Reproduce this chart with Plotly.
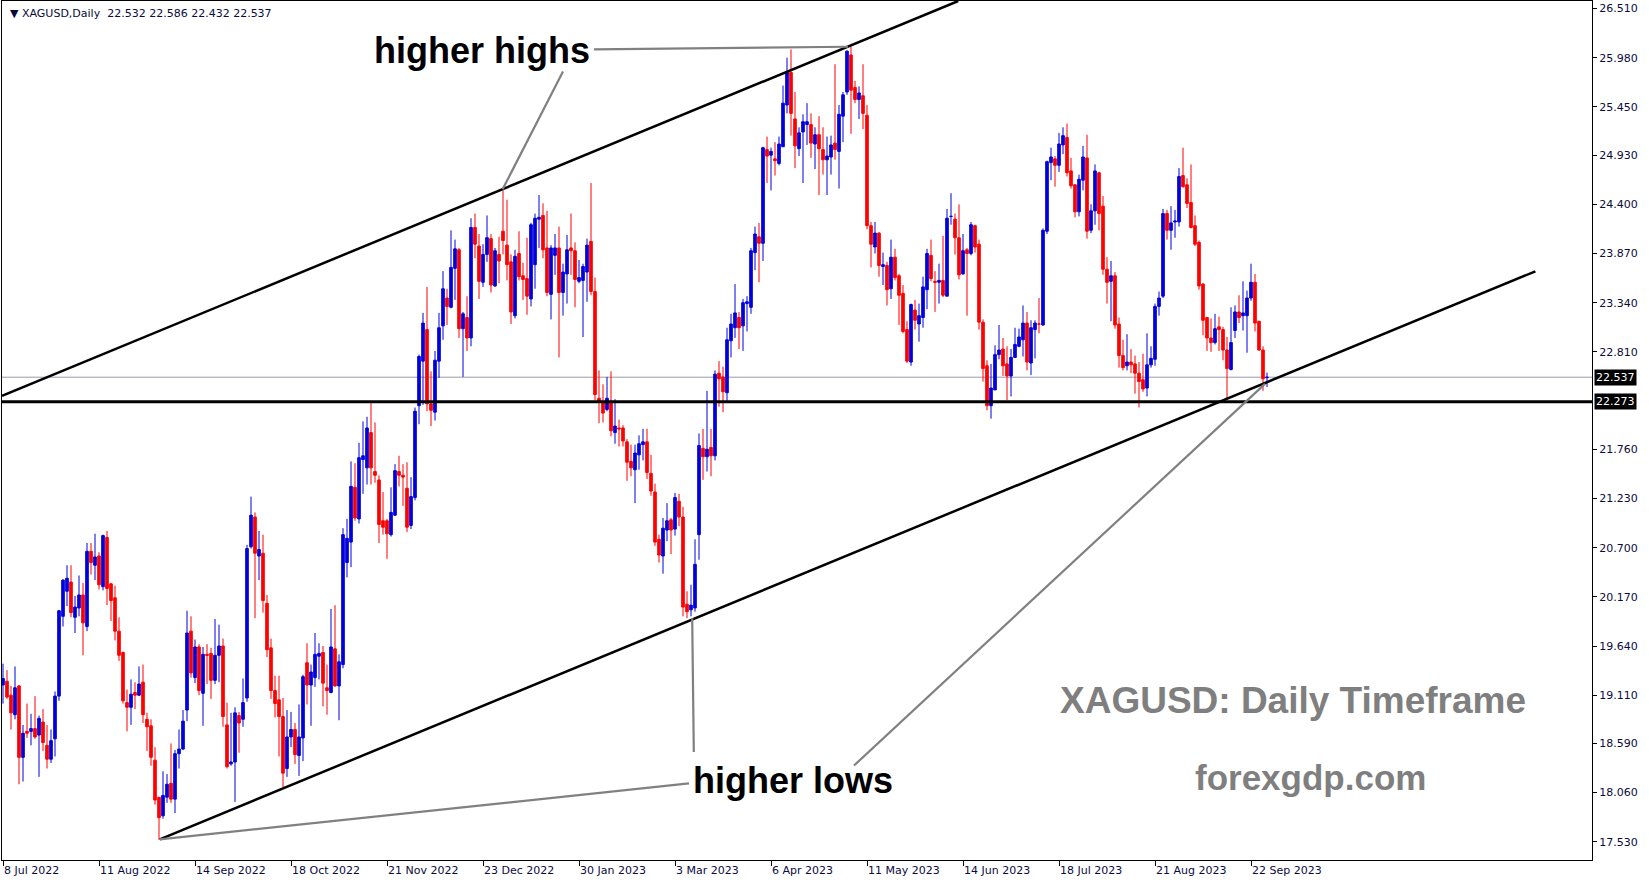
import plotly.graph_objects as go

# ---------------- data (XAGUSD daily, bar index 0 = 8 Jul 2022) ----------------
opens = [19.22,19.26,19.11,18.90,19.21,18.44,18.72,18.72,18.75,18.68,18.82,18.57,18.42,18.64,19.10,19.96,20.23,20.33,19.95,20.05,
20.19,19.85,20.66,20.51,20.61,20.28,20.81,20.31,20.16,19.80,19.57,19.03,18.98,19.14,19.11,19.25,18.85,18.78,18.41,18.01,
17.81,18.01,18.16,17.99,18.48,18.53,18.95,19.80,19.30,19.63,19.13,19.55,19.56,19.27,19.54,19.64,18.79,18.37,18.39,18.89,
18.85,19.08,20.71,21.03,20.61,20.64,20.10,19.62,19.16,19.06,18.88,18.32,18.66,18.74,18.46,18.65,19.46,19.22,19.30,19.53,
19.57,19.19,19.14,19.61,19.21,19.44,20.54,20.76,21.35,21.01,21.65,21.56,21.94,21.52,21.43,20.99,20.99,20.84,21.05,21.52,
21.48,21.34,20.94,21.24,22.23,22.71,23.05,22.25,22.16,22.71,23.09,23.39,23.29,23.71,23.91,23.06,23.18,22.96,24.15,23.95,
23.56,23.86,24.03,23.52,23.86,24.11,23.96,23.78,23.20,23.87,23.63,23.60,23.38,23.75,24.24,24.28,23.93,23.43,23.85,23.93,
23.45,23.65,23.93,23.90,23.57,23.58,23.67,24.00,23.46,22.31,22.27,22.19,22.26,21.94,21.99,21.99,21.84,21.63,21.54,21.70,
21.81,21.84,21.50,21.30,20.79,20.61,20.89,21.00,20.90,21.20,21.03,20.09,20.03,20.05,20.84,21.77,21.68,21.78,21.69,22.58,
22.54,22.37,22.93,23.07,23.18,23.09,23.33,23.29,23.88,24.05,23.98,24.99,24.93,24.89,24.84,25.02,25.47,25.82,25.32,25.00,
25.18,25.26,25.26,25.05,25.15,24.99,24.88,24.91,25.06,24.97,25.35,25.61,26.01,25.66,25.53,25.57,25.36,24.17,23.94,24.09,
23.73,23.74,23.49,23.83,23.63,23.44,23.05,22.70,23.26,23.11,23.18,23.48,23.85,23.57,23.56,23.58,23.41,24.27,24.24,24.04,
23.65,23.91,23.87,24.17,23.97,23.13,22.66,22.23,22.40,22.78,22.84,22.68,22.55,22.75,22.87,22.94,23.12,22.69,23.05,23.11,
23.10,24.11,24.85,24.89,24.82,25.04,25.12,24.76,24.61,24.32,24.66,24.90,24.12,24.33,24.74,24.38,23.70,23.57,23.63,23.11,
22.77,22.66,22.70,22.68,22.58,22.51,22.42,22.67,22.73,23.30,23.41,24.30,24.12,24.21,24.21,24.71,24.61,24.42,24.17,23.99,
23.54,23.18,22.96,22.91,23.08,23.05,22.83,22.62,23.04,23.24,23.20,23.20,23.39,23.56,23.14,22.83,22.532]

highs = [19.45,19.38,19.21,19.42,19.22,18.79,19.02,18.91,19.10,18.89,18.96,18.79,18.74,19.15,20.03,20.36,20.51,20.51,20.18,20.40,
20.32,20.75,20.75,20.85,20.65,20.84,20.88,20.32,20.29,19.95,19.58,19.17,19.28,19.25,19.42,19.44,18.92,18.85,18.55,18.01,
18.29,18.26,18.59,18.52,18.74,18.95,20.02,19.96,19.71,19.66,19.63,19.66,19.62,19.93,19.87,19.72,19.03,18.92,18.98,18.93,
19.29,20.73,21.25,21.08,20.88,20.84,20.19,19.72,19.32,19.32,19.08,18.95,18.93,18.81,19.01,19.33,19.67,19.44,19.78,19.67,
19.64,19.44,20.04,20.08,19.55,20.91,21.01,21.63,21.61,21.83,22.06,22.11,22.26,22.05,21.48,21.30,21.01,21.35,21.60,21.69,
21.60,21.62,21.46,22.21,22.78,23.23,23.51,22.60,22.82,23.23,23.68,23.49,24.12,24.02,23.93,23.24,23.41,24.25,24.30,24.08,
23.97,24.28,24.08,23.93,24.05,24.55,24.45,23.86,23.91,24.11,23.77,24.04,24.20,24.30,24.50,24.41,24.33,23.96,24.08,24.16,
23.76,24.07,24.30,23.99,23.80,23.76,24.03,24.63,23.61,22.61,22.46,22.54,22.60,22.30,22.08,22.02,21.87,21.81,21.81,21.91,
21.98,21.98,21.70,21.39,20.84,21.02,21.18,21.02,21.29,21.28,21.14,20.23,20.30,20.79,21.93,21.98,22.39,21.98,22.61,22.71,
22.65,23.07,23.22,23.54,23.24,23.38,23.41,23.93,24.16,24.20,25.02,25.13,25.01,25.07,25.13,25.68,25.98,26.07,25.61,25.23,
25.37,25.49,25.38,25.23,25.35,25.23,25.13,25.14,25.91,25.47,25.61,26.06,26.10,25.73,25.67,25.91,25.47,24.21,24.21,24.10,
23.88,23.78,24.02,23.92,23.65,23.53,23.14,23.33,23.37,23.33,23.62,23.92,24.02,23.68,23.76,24.06,24.35,24.52,24.30,24.40,
24.08,23.93,24.21,24.18,24.02,23.16,22.72,22.68,22.88,23.10,22.96,22.87,22.84,23.07,23.06,23.31,23.24,23.15,23.15,23.39,
24.14,24.87,25.01,24.92,25.17,25.23,25.27,24.90,24.62,24.72,25.03,25.15,24.40,24.83,24.75,24.49,23.83,23.79,23.67,23.18,
22.94,23.00,22.84,22.77,22.70,22.79,23.01,22.87,23.33,23.46,24.35,24.34,24.38,24.34,24.79,25.01,24.68,24.83,24.28,24.01,
23.55,23.18,23.17,23.22,23.19,23.08,22.97,23.29,23.31,23.42,23.57,23.47,23.76,23.65,23.14,22.87,22.586]

lows = [19.02,19.07,18.74,18.85,18.15,18.18,18.65,18.57,18.64,18.23,18.51,18.32,18.38,18.45,19.05,19.85,20.07,19.95,19.78,19.96,
19.54,19.80,20.41,20.35,20.25,20.24,20.08,19.91,19.70,19.48,19.02,18.72,18.79,18.96,19.10,18.81,18.51,18.35,17.93,17.55,
17.78,17.95,17.95,17.84,18.32,18.52,18.83,19.30,19.24,19.11,18.78,19.23,19.07,19.23,19.25,18.77,18.32,18.35,17.96,18.49,
18.77,19.04,20.69,19.94,20.35,20.00,19.52,19.07,18.87,18.45,18.12,18.23,18.55,18.37,18.24,18.40,19.01,18.78,19.20,19.28,
18.99,18.90,19.13,19.20,18.84,19.40,20.38,20.49,20.99,20.96,21.28,21.38,21.38,21.40,20.75,20.84,20.58,20.82,21.04,21.36,
21.15,20.87,20.90,21.21,22.03,22.24,22.17,22.01,22.07,22.53,22.94,23.10,23.28,23.37,22.96,22.54,22.82,22.87,23.82,23.38,
23.51,23.78,23.45,23.51,23.55,23.86,23.58,23.11,23.17,23.58,23.37,23.21,23.30,23.49,23.93,23.82,23.41,23.16,23.64,22.75,
23.20,23.33,23.64,23.29,23.55,22.97,23.35,23.42,22.29,22.04,22.05,22.17,21.90,21.82,21.79,21.79,21.42,21.47,21.18,21.54,
21.64,21.44,21.26,20.72,20.54,20.42,20.77,20.63,20.83,20.93,19.96,19.94,19.96,20.01,20.57,21.43,21.52,21.47,21.64,22.22,
22.16,22.28,22.75,22.96,22.84,22.82,23.03,23.22,23.69,23.56,23.79,24.63,24.55,24.71,24.82,25.02,25.38,25.14,24.79,24.92,
24.63,25.04,24.90,24.78,24.50,24.72,24.50,24.72,24.88,24.57,25.07,25.58,25.16,25.49,25.32,25.21,24.13,23.72,23.87,23.62,
23.53,23.31,23.38,23.58,23.10,23.01,22.69,22.66,23.05,22.92,23.07,23.27,23.57,23.24,23.33,23.40,23.41,24.18,23.86,23.59,
23.64,23.20,23.85,23.88,23.05,22.49,22.18,22.09,22.40,22.73,22.55,22.29,22.33,22.75,22.86,22.76,22.61,22.56,22.74,23.01,
23.09,24.08,24.66,24.59,24.75,24.94,24.70,24.57,24.26,24.27,24.55,24.03,24.09,24.18,24.12,23.64,23.33,23.14,23.06,22.64,
22.61,22.61,22.58,22.36,22.21,22.38,22.33,22.64,22.66,23.20,23.39,24.02,23.91,24.04,24.16,24.58,24.36,24.14,23.95,23.48,
22.99,22.82,22.81,22.89,22.82,22.72,22.31,22.61,22.96,23.12,23.04,22.80,23.36,23.03,22.82,22.39,22.432]

closes = [19.29,19.09,18.92,19.19,18.44,18.70,18.70,18.75,18.66,18.86,18.60,18.42,18.62,19.10,20.02,20.35,20.37,20.00,20.06,20.19,
19.89,20.66,20.54,20.60,20.30,20.83,20.26,20.13,19.80,19.54,19.05,18.98,19.12,19.11,19.23,18.90,18.77,18.44,17.98,17.79,
18.03,18.15,17.99,18.48,18.53,18.83,19.78,19.35,19.63,19.16,19.55,19.54,19.27,19.54,19.64,18.88,18.34,18.39,18.92,18.81,
19.03,20.69,21.05,20.64,20.68,20.13,19.60,19.16,19.02,18.88,18.27,18.66,18.74,18.47,18.66,19.31,19.22,19.36,19.55,19.56,
19.24,19.16,19.63,19.21,19.47,20.84,20.80,21.36,21.02,21.67,21.69,21.99,21.56,21.48,20.95,20.92,20.85,21.08,21.53,21.48,
21.46,20.92,21.25,22.17,22.76,23.12,22.25,22.18,22.72,23.07,23.49,23.30,23.72,23.92,23.06,23.22,22.96,24.15,23.97,23.57,
23.86,24.04,23.53,23.90,23.79,24.01,23.75,23.24,23.84,23.62,23.59,23.41,24.18,24.25,24.26,23.91,23.45,23.93,23.93,23.45,
23.67,23.91,23.90,23.59,23.61,23.73,23.96,23.46,22.35,22.27,22.15,22.31,21.96,22.01,21.98,21.85,21.62,21.56,21.72,21.82,
21.84,21.51,21.31,20.76,20.62,20.91,20.99,20.89,21.24,21.03,20.06,20.01,20.08,20.52,21.80,21.68,21.76,21.69,22.57,22.52,
22.38,22.94,23.11,23.23,23.07,23.34,23.35,23.90,24.08,23.98,25.01,24.92,24.97,24.87,25.05,25.49,25.82,25.38,25.03,25.17,
25.29,25.29,25.06,25.15,25.00,24.88,24.92,25.04,24.99,25.37,25.58,26.05,25.63,25.53,25.60,25.38,24.17,23.97,24.09,23.74,
23.75,23.48,23.83,23.61,23.42,23.03,22.71,23.32,23.15,23.20,23.51,23.87,23.60,23.56,23.58,23.42,24.25,24.27,24.04,23.64,
23.90,23.87,24.18,23.94,23.13,22.63,22.23,22.42,22.78,22.83,22.66,22.55,22.75,22.89,22.97,23.12,22.70,23.07,23.12,23.11,
24.12,24.86,24.91,24.82,25.05,25.14,24.74,24.60,24.32,24.67,24.91,24.11,24.33,24.76,24.30,23.70,23.56,23.63,23.10,22.77,
22.64,22.70,22.67,22.58,22.49,22.41,22.67,22.74,23.30,23.39,24.30,24.12,24.20,24.22,24.70,24.59,24.41,24.15,23.97,23.52,
23.15,22.96,22.91,23.06,23.05,22.83,22.63,22.91,23.24,23.18,23.23,23.39,23.56,23.12,22.83,22.52,22.537]

bars = list(range(len(closes)))

date_ticks = [0, 24, 48, 72, 96, 120, 144, 168, 192, 216, 240, 264, 288, 312]
date_labels = ["8 Jul 2022", "11 Aug 2022", "14 Sep 2022", "18 Oct 2022", "21 Nov 2022",
               "23 Dec 2022", "30 Jan 2023", "3 Mar 2023", "6 Apr 2023", "11 May 2023",
               "14 Jun 2023", "18 Jul 2023", "21 Aug 2023", "22 Sep 2023"]
price_ticks = [26.51, 25.98, 25.45, 24.93, 24.40, 23.87, 23.34, 22.81, 21.76, 21.23,
               20.70, 20.17, 19.64, 19.11, 18.59, 18.06, 17.53]

bid_price = 22.537
support_price = 22.273

# drawn objects (bar index, price)
upper_channel_x = [-0.25, 238.8]
upper_channel_y = [22.3356, 26.591]
lower_channel_x = [39.2, 383.1]
lower_channel_y = [17.557, 23.678]
hh_pointer_x = [[147.75, 211.25], [140.0, 124.9]]
hh_pointer_y = [[26.069, 26.098], [25.831, 24.562]]
hl_pointer_x = [[39.2, 171.5], [172.3, 172.7], [212.75, 315.5]]
hl_pointer_y = [[17.557, 18.159], [19.938, 18.498], [18.352, 22.465]]

X_RANGE = [-0.25, 397.25]
Y_RANGE = [17.334, 26.591]

fig = go.Figure()
fig.add_trace(go.Candlestick(
    x=bars, open=opens, high=highs, low=lows, close=closes,
    increasing=dict(line=dict(color="#0000dd", width=1), fillcolor="#0000dd"),
    decreasing=dict(line=dict(color="#ff0000", width=1), fillcolor="#ff0000"),
    whiskerwidth=0, hoverinfo="skip", showlegend=False,
))

shapes = []
shapes.append(dict(type="line", xref="x", yref="y", x0=X_RANGE[0], x1=X_RANGE[1],
                   y0=bid_price, y1=bid_price, line=dict(color="#9a9aa8", width=1), layer="below"))
shapes.append(dict(type="line", xref="x", yref="y", x0=X_RANGE[0], x1=X_RANGE[1],
                   y0=support_price, y1=support_price, line=dict(color="black", width=3), layer="above"))
shapes.append(dict(type="line", xref="x", yref="y", x0=upper_channel_x[0], x1=upper_channel_x[1],
                   y0=upper_channel_y[0], y1=upper_channel_y[1], line=dict(color="black", width=2.5)))
shapes.append(dict(type="line", xref="x", yref="y", x0=lower_channel_x[0], x1=lower_channel_x[1],
                   y0=lower_channel_y[0], y1=lower_channel_y[1], line=dict(color="black", width=2.5)))
for xs, ys in zip(hh_pointer_x + hl_pointer_x, hh_pointer_y + hl_pointer_y):
    shapes.append(dict(type="line", xref="x", yref="y", x0=xs[0], x1=xs[1], y0=ys[0], y1=ys[1],
                       line=dict(color="#808080", width=2.2)))

big_font = "Liberation Sans, Arial, sans-serif"
annotations = [
    dict(x=119.7, y=26.057, xref="x", yref="y", text="<b>higher highs</b>", showarrow=False,
         font=dict(family=big_font, size=36, color="black")),
    dict(x=197.5, y=18.192, xref="x", yref="y", text="<b>higher lows</b>", showarrow=False,
         font=dict(family=big_font, size=36, color="black")),
    dict(x=322.6, y=19.054, xref="x", yref="y", text="<b>XAGUSD: Daily Timeframe</b>", showarrow=False,
         font=dict(family=big_font, size=37, color="#7f7f7f")),
    dict(x=326.9, y=18.227, xref="x", yref="y", text="<b>forexgdp.com</b>", showarrow=False,
         font=dict(family=big_font, size=35, color="#7f7f7f")),
    dict(x=0.004, y=0.986, xref="paper", yref="paper", xanchor="left", yanchor="middle",
         text="▼ XAGUSD,Daily  22.532 22.586 22.432 22.537", showarrow=False,
         font=dict(family="Tahoma, DejaVu Sans, sans-serif", size=11, color="#0a0a3c")),
    dict(x=1, y=bid_price, xref="paper", yref="y", xanchor="left", xshift=2, yanchor="middle",
         text="%.3f" % bid_price, showarrow=False, bgcolor="black", borderpad=1,
         font=dict(family="DejaVu Sans, sans-serif", size=11, color="white")),
    dict(x=1, y=support_price, xref="paper", yref="y", xanchor="left", xshift=2, yanchor="middle",
         text="%.3f" % support_price, showarrow=False, bgcolor="black", borderpad=1,
         font=dict(family="DejaVu Sans, sans-serif", size=11, color="white")),
]

fig.update_layout(
    width=1649, height=884,
    margin=dict(l=2, r=57, t=1, b=24, autoexpand=False),
    paper_bgcolor="white", plot_bgcolor="white",
    shapes=shapes, annotations=annotations,
    showlegend=False,
    boxgap=0.25, boxgroupgap=0.13,
    xaxis=dict(range=X_RANGE, rangeslider=dict(visible=False), showgrid=False, zeroline=False,
               automargin=False,
               showline=True, linecolor="black", linewidth=1, mirror=True,
               ticks="outside", ticklen=5, tickcolor="black",
               tickvals=date_ticks, ticktext=date_labels, ticklabelposition="outside right",
               tickfont=dict(family="Tahoma, DejaVu Sans, sans-serif", size=11, color="#0a0a3c")),
    yaxis=dict(range=Y_RANGE, side="right", showgrid=False, zeroline=False,
               automargin=False,
               showline=True, linecolor="black", linewidth=1, mirror=True,
               ticks="outside", ticklen=4, tickcolor="black",
               tickvals=price_ticks, ticktext=["%.3f" % v for v in price_ticks],
               tickfont=dict(family="Tahoma, DejaVu Sans, sans-serif", size=11, color="#0a0a3c")),
)

fig.write_html("out.html", config={"displayModeBar": False},
               post_script="document.body.style.margin='0px';document.body.style.overflow='hidden';")
